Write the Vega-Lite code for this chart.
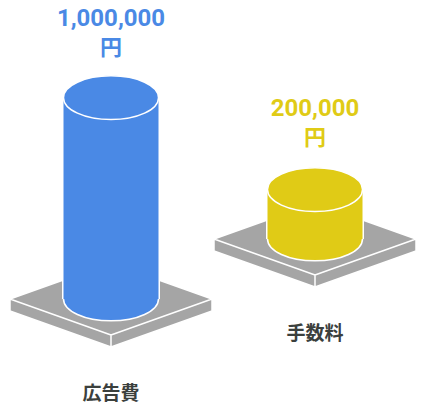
{
  "$schema": "https://vega.github.io/schema/vega-lite/v6.json",
  "width": 422,
  "height": 410,
  "autosize": {"type": "none"},
  "padding": 0,
  "config": {"view": {"stroke": null}},
  "data": {
    "values": [
      {"item": "広告費", "value": 1000000},
      {"item": "手数料", "value": 200000}
    ]
  },
  "encoding": {
    "x": {
      "field": "item",
      "type": "nominal",
      "scale": {"type": "point", "domain": ["広告費", "手数料"], "range": [111, 315], "padding": 0},
      "axis": null
    },
    "color": {
      "field": "item",
      "type": "nominal",
      "scale": {"domain": ["広告費", "手数料"], "range": ["#4A89E5", "#E0CB16"]},
      "legend": null
    }
  },
  "resolve": {"scale": {"y": "independent"}},
  "layer": [
    {
      "transform": [{"filter": "datum.item === '広告費'"}],
      "encoding": {
        "y": {"field": "value", "type": "quantitative", "scale": {"domain": [-60000, 1000000], "range": [299, 97.7], "nice": false, "zero": false}, "axis": null}
      },
      "layer": [
        {
          "mark": {"type": "point", "shape": "M-1,0L0,-0.356L1,0L0,0.356Z M-1,0L0,0.356L0,0.475L-1,0.119Z M1,0L0,0.356L0,0.475L1,0.119Z", "size": 40804, "filled": true, "opacity": 1, "stroke": "white", "strokeWidth": 1.5},
          "encoding": {"y": {"datum": -60000, "type": "quantitative"}, "color": {"value": "#A5A5A5"}}
        },
        {
          "mark": {"type": "point", "shape": "M1,0C1,0.254 0.552,0.46 0,0.46C-0.552,0.46 -1,0.254 -1,0C-1,-0.254 -0.552,-0.46 0,-0.46C0.552,-0.46 1,-0.254 1,0Z", "size": 9025, "filled": true, "opacity": 1, "stroke": "white", "strokeWidth": 1.5},
          "encoding": {"y": {"datum": -60000, "type": "quantitative"}}
        },
        {
          "mark": {"type": "bar", "width": 98},
          "encoding": {"y2": {"datum": -60000}, "color": {"value": "white"}}
        },
        {
          "mark": {"type": "bar", "width": 95},
          "encoding": {"y2": {"datum": -60000}}
        },
        {
          "mark": {"type": "point", "shape": "M1,0C1,0.254 0.552,0.46 0,0.46C-0.552,0.46 -1,0.254 -1,0C-1,-0.254 -0.552,-0.46 0,-0.46C0.552,-0.46 1,-0.254 1,0Z", "size": 9025, "filled": true, "opacity": 1, "stroke": "white", "strokeWidth": 1.5}
        },
        {
          "mark": {"type": "text", "font": "Roboto, Noto Sans CJK JP", "fontSize": 24, "fontWeight": "bold", "baseline": "alphabetic", "dy": -72},
          "encoding": {"text": {"field": "value", "type": "quantitative", "format": ","}}
        },
        {
          "mark": {"type": "text", "font": "Roboto, Noto Sans CJK JP", "fontSize": 22, "fontWeight": "bold", "baseline": "alphabetic", "dy": -43, "text": "円"}
        },
        {
          "mark": {"type": "text", "font": "Noto Sans CJK JP", "fontSize": 19, "fontWeight": "bold", "baseline": "middle", "dy": 95},
          "encoding": {"y": {"datum": -60000, "type": "quantitative"}, "text": {"field": "item", "type": "nominal"}, "color": {"value": "#3B403D"}}
        }
      ]
    },
    {
      "transform": [{"filter": "datum.item === '手数料'"}],
      "encoding": {
        "y": {"field": "value", "type": "quantitative", "scale": {"domain": [-60000, 1000000], "range": [239, 37.7], "nice": false, "zero": false}, "axis": null}
      },
      "layer": [
        {
          "mark": {"type": "point", "shape": "M-1,0L0,-0.356L1,0L0,0.356Z M-1,0L0,0.356L0,0.475L-1,0.119Z M1,0L0,0.356L0,0.475L1,0.119Z", "size": 40804, "filled": true, "opacity": 1, "stroke": "white", "strokeWidth": 1.5},
          "encoding": {"y": {"datum": -60000, "type": "quantitative"}, "color": {"value": "#A5A5A5"}}
        },
        {
          "mark": {"type": "point", "shape": "M1,0C1,0.254 0.552,0.46 0,0.46C-0.552,0.46 -1,0.254 -1,0C-1,-0.254 -0.552,-0.46 0,-0.46C0.552,-0.46 1,-0.254 1,0Z", "size": 9025, "filled": true, "opacity": 1, "stroke": "white", "strokeWidth": 1.5},
          "encoding": {"y": {"datum": -60000, "type": "quantitative"}}
        },
        {
          "mark": {"type": "bar", "width": 98},
          "encoding": {"y2": {"datum": -60000}, "color": {"value": "white"}}
        },
        {
          "mark": {"type": "bar", "width": 95},
          "encoding": {"y2": {"datum": -60000}}
        },
        {
          "mark": {"type": "point", "shape": "M1,0C1,0.254 0.552,0.46 0,0.46C-0.552,0.46 -1,0.254 -1,0C-1,-0.254 -0.552,-0.46 0,-0.46C0.552,-0.46 1,-0.254 1,0Z", "size": 9025, "filled": true, "opacity": 1, "stroke": "white", "strokeWidth": 1.5}
        },
        {
          "mark": {"type": "text", "font": "Roboto, Noto Sans CJK JP", "fontSize": 24, "fontWeight": "bold", "baseline": "alphabetic", "dy": -73.5},
          "encoding": {"text": {"field": "value", "type": "quantitative", "format": ","}}
        },
        {
          "mark": {"type": "text", "font": "Roboto, Noto Sans CJK JP", "fontSize": 22, "fontWeight": "bold", "baseline": "alphabetic", "dy": -44.5, "text": "円"}
        },
        {
          "mark": {"type": "text", "font": "Noto Sans CJK JP", "fontSize": 19, "fontWeight": "bold", "baseline": "middle", "dy": 95},
          "encoding": {"y": {"datum": -60000, "type": "quantitative"}, "text": {"field": "item", "type": "nominal"}, "color": {"value": "#3B403D"}}
        }
      ]
    }
  ]
}
